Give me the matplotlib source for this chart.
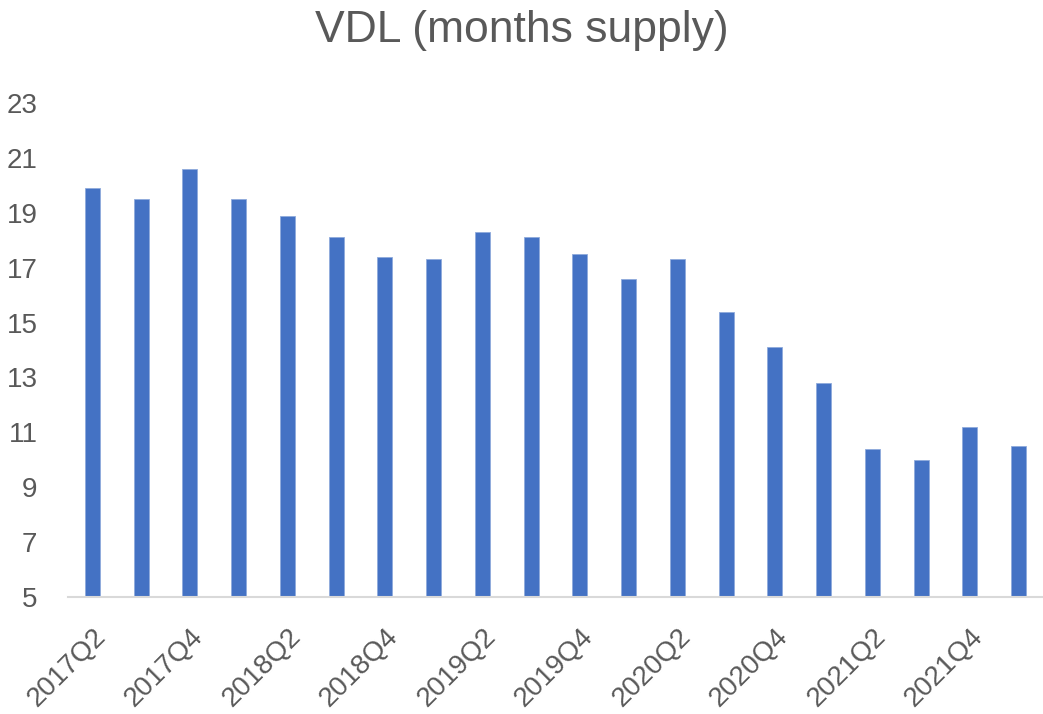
import matplotlib
matplotlib.use("Agg")
import matplotlib.pyplot as plt
import numpy as np

# Datos
quarters = [f"{y}Q{q}" for y in range(2017, 2023) for q in range(1, 5)][1:21]
values = [19.9, 19.5, 20.6, 19.5, 18.9, 18.1, 17.4, 17.3, 18.3, 18.1,
          17.5, 16.6, 17.3, 15.4, 14.1, 12.8, 10.4, 10.0, 11.2, 10.5]
yticks = [5, 7, 9, 11, 13, 15, 17, 19, 21, 23]

plt.rcParams['font.family'] = ['Liberation Sans', 'DejaVu Sans']
TXT = '#595959'

fig = plt.figure(figsize=(10.43, 7.14), dpi=100)
ax = fig.add_axes([0.0652, 0.1639, 0.9348, 0.6918])

x = np.arange(len(values))
ax.bar(x, values, width=0.31, color='#4472C4', edgecolor='#8FAADC', linewidth=0.6)
ax.set_ylim(5, 23)
ax.set_xlim(-0.5, len(values) - 0.5)
ax.set_yticks(yticks)
ax.set_yticklabels([str(t) for t in yticks], fontsize=20, color=TXT)
ax.set_xticks(x[::2])
ax.set_xticklabels(quarters[::2], rotation=45, ha='right', rotation_mode='anchor',
                   fontsize=20, color=TXT)
ax.tick_params(axis='both', length=0)
ax.tick_params(axis='y', pad=22)
ax.tick_params(axis='x', pad=19)

for s in ['top', 'right', 'left']:
    ax.spines[s].set_visible(False)
ax.spines['bottom'].set_color('#D9D9D9')
ax.spines['bottom'].set_linewidth(1.5)

fig.text(0.5, 0.986, 'VDL (months supply)', ha='center', va='top', fontsize=32, color=TXT)

fig.savefig('out.png', dpi=100)
